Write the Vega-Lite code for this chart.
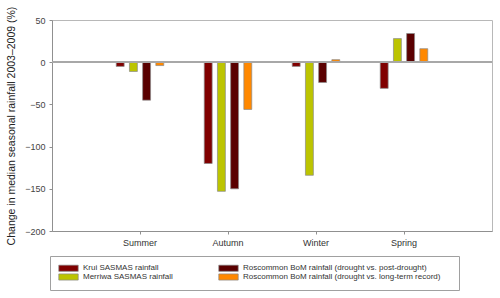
{
  "$schema": "https://vega.github.io/schema/vega-lite/v6.json",
  "width": 440,
  "height": 211,
  "autosize": {"type": "none"},
  "padding": {"left": 52, "top": 20, "right": 8, "bottom": 67},
  "background": "white",
  "config": {
    "font": "Liberation Sans",
    "view": {"stroke": "#b8b8b8", "strokeWidth": 1}
  },
  "data": {
    "values": [
      {"season": "Summer", "series": "Krui SASMAS rainfall", "value": -5},
      {"season": "Summer", "series": "Merriwa SASMAS rainfall", "value": -11},
      {"season": "Summer", "series": "Roscommon BoM rainfall (drought vs. post-drought)", "value": -45},
      {"season": "Summer", "series": "Roscommon BoM rainfall (drought vs. long-term record)", "value": -4},
      {"season": "Autumn", "series": "Krui SASMAS rainfall", "value": -120},
      {"season": "Autumn", "series": "Merriwa SASMAS rainfall", "value": -153},
      {"season": "Autumn", "series": "Roscommon BoM rainfall (drought vs. post-drought)", "value": -150},
      {"season": "Autumn", "series": "Roscommon BoM rainfall (drought vs. long-term record)", "value": -56},
      {"season": "Winter", "series": "Krui SASMAS rainfall", "value": -5},
      {"season": "Winter", "series": "Merriwa SASMAS rainfall", "value": -134},
      {"season": "Winter", "series": "Roscommon BoM rainfall (drought vs. post-drought)", "value": -24},
      {"season": "Winter", "series": "Roscommon BoM rainfall (drought vs. long-term record)", "value": 3},
      {"season": "Spring", "series": "Krui SASMAS rainfall", "value": -31},
      {"season": "Spring", "series": "Merriwa SASMAS rainfall", "value": 28},
      {"season": "Spring", "series": "Roscommon BoM rainfall (drought vs. post-drought)", "value": 34},
      {"season": "Spring", "series": "Roscommon BoM rainfall (drought vs. long-term record)", "value": 16}
    ]
  },
  "layer": [
    {
      "mark": {"type": "bar", "stroke": "#8a8a8a", "strokeWidth": 0.7},
      "encoding": {
        "x": {
          "field": "season",
          "type": "nominal",
          "sort": ["Summer", "Autumn", "Winter", "Spring"],
          "scale": {"paddingInner": 0.4, "paddingOuter": 0.7},
          "axis": {
            "title": null,
            "labelAngle": 0,
            "labelFontSize": 9,
            "labelColor": "#333333",
            "labelPadding": 4,
            "domainColor": "#909090",
            "tickColor": "#909090",
            "tickSize": 3,
            "grid": false
          }
        },
        "xOffset": {
          "field": "series",
          "type": "nominal",
          "scale": {
            "domain": [
              "Krui SASMAS rainfall",
              "Merriwa SASMAS rainfall",
              "Roscommon BoM rainfall (drought vs. post-drought)",
              "Roscommon BoM rainfall (drought vs. long-term record)"
            ],
            "paddingInner": 0.4,
            "paddingOuter": 0.2
          }
        },
        "y": {
          "field": "value",
          "type": "quantitative",
          "scale": {"domain": [-200, 50], "nice": false, "zero": false},
          "axis": {
            "title": "Change in median seasonal rainfall 2003–2009 (%)",
            "titleFontSize": 10.5,
            "titleFontWeight": "normal",
            "titleColor": "#222222",
            "titlePadding": 8,
            "values": [-200, -150, -100, -50, 0, 50],
            "labelFontSize": 9,
            "labelColor": "#444444",
            "labelPadding": 4,
            "domainColor": "#909090",
            "tickColor": "#909090",
            "tickSize": 3,
            "grid": false
          }
        },
        "color": {
          "field": "series",
          "type": "nominal",
          "scale": {
            "domain": [
              "Krui SASMAS rainfall",
              "Merriwa SASMAS rainfall",
              "Roscommon BoM rainfall (drought vs. post-drought)",
              "Roscommon BoM rainfall (drought vs. long-term record)"
            ],
            "range": ["#800000", "#bcc400", "#5a0000", "#ff8800"]
          },
          "legend": {
            "title": [" ", " "],
            "titleOrient": "right",
            "titlePadding": 11,
            "titleFontSize": 8,
            "titleLineHeight": 11,
            "orient": "none",
            "legendX": -2,
            "legendY": 236,
            "columns": 2,
            "columnPadding": 44,
            "rowPadding": -1,
            "padding": 8,
            "strokeColor": "#a0a0a0",
            "fillColor": "white",
            "symbolType": "M-3,-0.95H3V0.95H-3Z",
            "symbolSize": 42,
            "symbolOffset": 6.5,
            "symbolStrokeColor": "#8a8a8a",
            "symbolStrokeWidth": 0.7,
            "labelFontSize": 8,
            "labelColor": "#333333",
            "labelOffset": 10.5,
            "labelLimit": 400
          }
        }
      }
    },
    {
      "mark": {"type": "rule", "color": "#a8a8a8", "strokeWidth": 1},
      "encoding": {"y": {"datum": 0}}
    }
  ]
}
